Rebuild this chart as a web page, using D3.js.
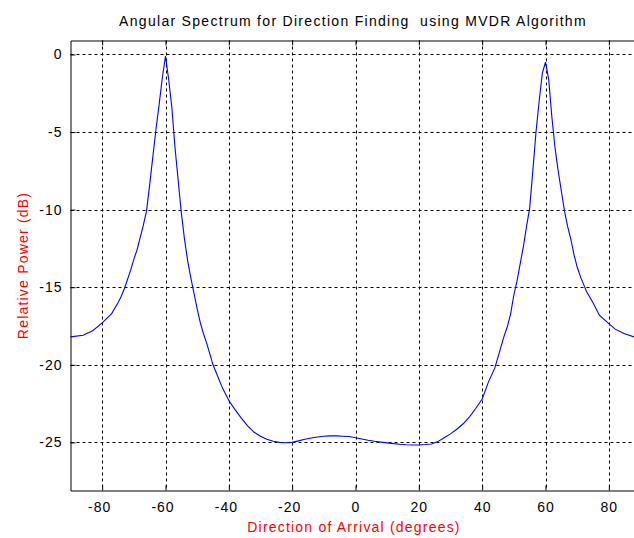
<!DOCTYPE html>
<html>
<head>
<meta charset="utf-8">
<script src="https://cdn.jsdelivr.net/npm/d3@7"></script>
<style>
  body { margin: 0; background: #fff; }
  text { font-family: "Liberation Sans", Arial, sans-serif; }
</style>
</head>
<body>
<div id="chart"></div>
<script>
// Direction of arrival (degrees) and relative power (dB)
const angles = [-90, -86, -83, -80, -77, -75, -74, -73, -72, -71, -70, -69, -68, -67, -66, -65, -64, -63, -62, -61, -60,
  -59, -58, -57, -56, -55, -54, -53, -52, -51, -50, -49, -48, -47, -46, -45, -44, -42, -40, -38, -36, -34, -32, -30,
  -28, -26, -24, -22, -20, -18, -16, -14, -12, -10, -8, -6, -4, -2, 0, 2, 4, 6, 8, 10, 12, 14, 16, 18, 20, 22, 24,
  26, 28, 30, 32, 34, 36, 38, 40, 42, 44, 45, 46, 47, 48, 49, 50, 51, 52, 53, 54, 55, 56, 57, 58, 59, 60,
  61, 62, 63, 64, 65, 66, 67, 68, 69, 70, 71, 72, 73, 75, 77, 80, 82, 85, 88, 90];
const powerDb = [-18.2, -18.1, -17.8, -17.3, -16.7, -16.0, -15.6, -15.1, -14.5, -13.9, -13.2, -12.6, -11.8, -11.0, -10.1, -8.4, -6.6, -4.8, -3.2, -1.5, -0.1,
  -1.6, -3.4, -6.0, -8.1, -10.2, -11.9, -13.3, -14.4, -15.4, -16.4, -17.3, -18.0, -18.6, -19.3, -20.0, -20.5, -21.5, -22.3, -22.9, -23.45, -23.95, -24.35, -24.6,
  -24.8, -24.93, -25.0, -25.02, -25.0, -24.9, -24.8, -24.72, -24.65, -24.6, -24.58, -24.58, -24.6, -24.62, -24.7, -24.78, -24.86, -24.93, -24.98, -25.03, -25.08, -25.12, -25.15, -25.17, -25.17, -25.14, -25.1,
  -24.95, -24.7, -24.45, -24.15, -23.8, -23.35, -22.8, -22.2, -21.1, -20.2, -19.5, -18.8, -18.1, -17.5, -16.7, -15.5, -14.6, -13.5, -12.4, -11.1, -9.9, -7.5, -5.0, -3.0, -1.2, -0.5,
  -1.6, -4.0, -6.0, -7.5, -8.8, -10.1, -11.1, -11.9, -12.9, -13.7, -14.3, -14.8, -15.3, -16.0, -16.8, -17.35, -17.7, -18.0, -18.2, -18.3];

const xTicks = [-80, -60, -40, -20, 0, 20, 40, 60, 80];
const yTicks = [0, -5, -10, -15, -20, -25];

const titleText = 'Angular Spectrum for Direction Finding  using MVDR Algorithm';
const xLabel = 'Direction of Arrival (degrees)';
const yLabel = 'Relative Power (dB)';

const width = 634, height = 538;
const plot = {left: 70.5, right: 640.5, top: 40.5, bottom: 490.5};

const svg = d3.select('#chart').append('svg')
    .attr('width', width)
    .attr('height', height);

const x = d3.scaleLinear().domain([-90, 90]).range([plot.left, plot.right]);
const y = d3.scaleLinear().domain([-28.1, 0.9]).range([plot.bottom, plot.top]);

// grid
const grid = svg.append('g')
    .attr('stroke', '#000')
    .attr('stroke-width', 1)
    .attr('stroke-dasharray', '3,3');

grid.selectAll('line.gx')
  .data(xTicks)
  .join('line')
    .attr('class', 'gx')
    .attr('x1', d => Math.round(x(d)) + 0.5)
    .attr('x2', d => Math.round(x(d)) + 0.5)
    .attr('y1', plot.top)
    .attr('y2', plot.bottom);

grid.selectAll('line.gy')
  .data(yTicks)
  .join('line')
    .attr('class', 'gy')
    .attr('y1', d => Math.round(y(d)) + 0.5)
    .attr('y2', d => Math.round(y(d)) + 0.5)
    .attr('x1', plot.left)
    .attr('x2', plot.right);

// spectrum curve
const points = angles.map((a, i) => [a, powerDb[i]]);
svg.append('path')
    .datum(points)
    .attr('fill', 'none')
    .attr('stroke', '#0000ff')
    .attr('stroke-width', 1.1)
    .attr('d', d3.line().x(d => x(d[0])).y(d => y(d[1])));

// axes, ticks pointing inward like MATLAB; plain hyphen for minus
const fmt = d => String(d);
const xAxis = d3.axisBottom(x).tickValues(xTicks).tickSizeInner(-5).tickSizeOuter(0).tickPadding(12).tickFormat(fmt);
const yAxis = d3.axisLeft(y).tickValues(yTicks).tickSizeInner(-5).tickSizeOuter(0).tickPadding(8).tickFormat(fmt);

const gx = svg.append('g')
    .attr('transform', `translate(0,${plot.bottom})`)
    .call(xAxis);
const gy = svg.append('g')
    .attr('transform', `translate(${plot.left},0)`)
    .call(yAxis);
const gTop = svg.append('g')
    .attr('transform', `translate(0,${plot.top})`)
    .call(d3.axisTop(x).tickValues(xTicks).tickSizeInner(-5).tickSizeOuter(0).tickFormat(''));

[gx, gy, gTop].forEach(g => {
  g.selectAll('.domain').attr('stroke', '#000');
  g.selectAll('.tick line').attr('stroke', '#000');
  g.selectAll('.tick text')
      .attr('fill', '#000')
      .style('font-size', '14px')
      .style('letter-spacing', '1px');
});
gx.selectAll('.tick text').attr('dx', d => d < 0 ? -3 : 0);

// titles
svg.append('text')
    .attr('x', 353)
    .attr('y', 26)
    .attr('text-anchor', 'middle')
    .style('font-size', '14px')
    .style('letter-spacing', '1.3px')
    .style('white-space', 'pre')
    .attr('fill', '#000')
    .text(titleText);

svg.append('text')
    .attr('x', 354)
    .attr('y', 532)
    .attr('text-anchor', 'middle')
    .style('font-size', '14px')
    .style('letter-spacing', '1.2px')
    .attr('fill', '#ff0000')
    .text(xLabel);

svg.append('text')
    .attr('transform', `translate(28,${(plot.top + plot.bottom) / 2}) rotate(-90)`)
    .attr('text-anchor', 'middle')
    .style('font-size', '14px')
    .style('letter-spacing', '1.2px')
    .attr('fill', '#ff0000')
    .text(yLabel);
</script>
</body>
</html>
